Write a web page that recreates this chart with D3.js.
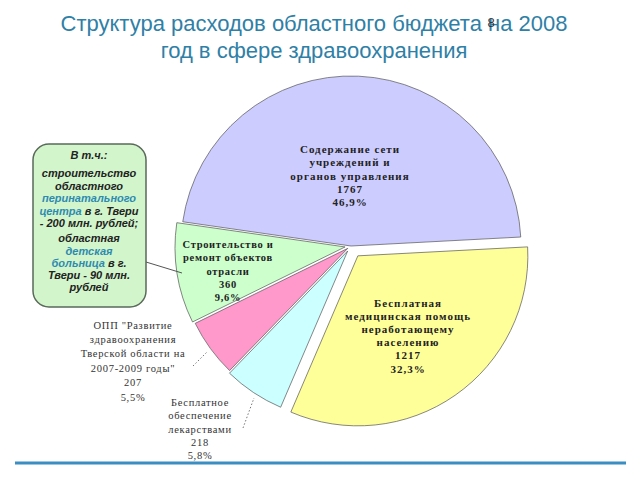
<!DOCTYPE html>
<html><head><meta charset="utf-8">
<script src="https://cdn.jsdelivr.net/npm/d3@7"></script>
<style>
body{margin:0;background:#fff;}
svg{display:block;}
</style></head>
<body>
<svg id="chart" width="640" height="480"></svg>
<script>
// ---- data ----
const categories = [
  "Содержание сети учреждений и органов управления",
  "Бесплатная медицинская помощь неработающему населению",
  "Бесплатное обеспечение лекарствами",
  "ОПП \"Развитие здравоохранения Тверской области на 2007-2009 годы\"",
  "Строительство и ремонт объектов отрасли"
];
const values = [1767, 1217, 218, 207, 360];
const percents = ["46,9%", "32,3%", "5,8%", "5,5%", "9,6%"];
const labelLines = [
  ["Содержание сети", "учреждений и", "органов управления"],
  ["Бесплатная", "медицинская помощь", "неработающему", "населению"],
  ["Бесплатное", "обеспечение", "лекарствами"],
  ["ОПП \"Развитие", "здравоохранения", "Тверской области на", "2007-2009 годы\""],
  ["Строительство и", "ремонт объектов", "отрасли"]
];
const titleLines = ["Структура расходов областного бюджета на 2008", "год в сфере здравоохранения"];
const noteLines = [
  [["В т.ч.:", false]],
  [["строительство", false]],
  [["областного", false]],
  [["перинатального", true]],
  [["центра", true], [" в г. Твери", false]],
  [["- 200 млн. рублей;", false]],
  [["областная", false]],
  [["детская", true]],
  [["больница", true], [" в г.", false]],
  [["Твери - 90 млн.", false]],
  [["рублей", false]]
];

// ---- layout / style ----
const colors = ["#ccccff", "#ffff99", "#ccffff", "#ff99cc", "#ccffcc"];
const explode = [0, 12, 6, 4, 6];
const svg = d3.select("#chart");
const cx = 351, cy = 246, R = 170;
const startA = -81.8 * Math.PI / 180;

// title
svg.selectAll("text.title").data(titleLines).join("text")
  .attr("class", "title")
  .attr("x", 314).attr("y", (d, i) => 31 + i * 27)
  .attr("text-anchor", "middle")
  .attr("font-family", "Liberation Sans, Arial, sans-serif")
  .attr("font-size", 22)
  .attr("fill", "#2f80a6")
  .text(d => d);
svg.append("text").attr("x", 491).attr("y", 27).attr("text-anchor", "middle")
  .attr("font-family", "Liberation Sans, Arial, sans-serif").attr("font-size", 13)
  .attr("fill", "#333").text("8");

// pie
const pie = d3.pie().sort(null).value(d => d).startAngle(startA).endAngle(startA + 2 * Math.PI);
const arcs = pie(values);
const arc = d3.arc().innerRadius(0).outerRadius(R);
const g = svg.append("g").attr("transform", `translate(${cx},${cy})`);

g.selectAll("path").data(arcs).join("path")
  .attr("transform", (d, i) => {
    const m = (d.startAngle + d.endAngle) / 2;
    return `translate(${Math.sin(m) * explode[i]},${-Math.cos(m) * explode[i]})`;
  })
  .attr("d", arc)
  .attr("fill", (d, i) => colors[i])
  .attr("stroke", "#555")
  .attr("stroke-width", 0.7);

// labels
const labelPos = [[350, 176], [408, 336], [200, 429], [133, 361], [228, 271]];
const labelBold = [true, true, false, false, true];
const labelSize = [11, 11, 10.5, 10.5, 10.5];
const labelSpacing = [1.0, 1.0, 0.7, 0.7, 0.7];
const labelLh = [13.2, 13.2, 13.2, 14.4, 13.2];
arcs.forEach((d, i) => {
  const lines = labelLines[i].concat([String(values[i]), percents[i]]);
  const lh = labelLh[i];
  const y0 = labelPos[i][1] - (lines.length - 1) / 2 * lh + 3.5;
  svg.append("g").selectAll("text").data(lines).join("text")
    .attr("x", labelPos[i][0])
    .attr("y", (t, k) => y0 + k * lh)
    .attr("text-anchor", "middle")
    .attr("font-family", "Liberation Serif, Times New Roman, serif")
    .attr("font-size", labelSize[i])
    .attr("font-weight", labelBold[i] ? "bold" : "normal")
    .attr("letter-spacing", labelSpacing[i])
    .attr("fill", labelBold[i] ? "#222" : "#333")
    .text(t => t);
});

// leader lines
const leaders = [[[193, 366], [207, 352]], [[243, 428], [254, 398]]];
svg.selectAll("line.lead").data(leaders).join("line")
  .attr("class", "lead")
  .attr("x1", d => d[0][0]).attr("y1", d => d[0][1])
  .attr("x2", d => d[1][0]).attr("y2", d => d[1][1])
  .attr("stroke", "#555").attr("stroke-width", 0.8).attr("stroke-dasharray", "1.5,2");

// callout
svg.append("line").attr("x1", 146).attr("y1", 262).attr("x2", 182).attr("y2", 273)
  .attr("stroke", "#555").attr("stroke-width", 1);
svg.append("rect").attr("x", 33).attr("y", 144).attr("width", 113).attr("height", 163)
  .attr("rx", 16).attr("ry", 16)
  .attr("fill", "#d3f5cc").attr("stroke", "#5a6a5a").attr("stroke-width", 1.5);
const noteY = [158, 176, 189, 201, 214, 226, 241, 254, 266, 278, 290];
noteLines.forEach((parts, i) => {
  const t = svg.append("text").attr("x", 89).attr("y", noteY[i] + 1)
    .attr("text-anchor", "middle")
    .attr("font-family", "Liberation Sans, Arial, sans-serif")
    .attr("font-size", 11).attr("font-style", "italic").attr("font-weight", "bold");
  parts.forEach(p => t.append("tspan").attr("fill", p[1] ? "#2e8bb0" : "#222").text(p[0]));
});

// bottom rule
svg.append("line").attr("x1", 15).attr("x2", 626).attr("y1", 463).attr("y2", 463)
  .attr("stroke", "#3b8ec2").attr("stroke-width", 3);
</script>
</body></html>
